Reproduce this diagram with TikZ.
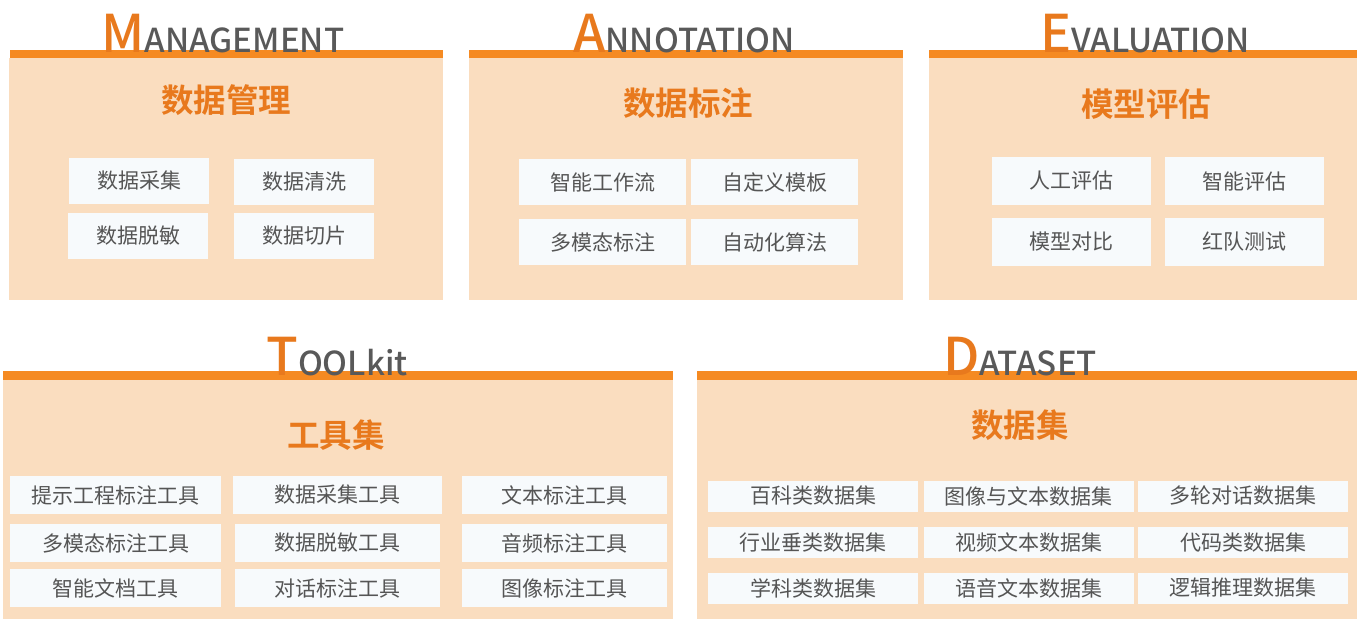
\documentclass[tikz,border=0pt]{standalone}
\usepackage{fontspec}
\setmainfont{Noto Sans CJK SC}[BoldFont={Noto Sans CJK SC Bold}]
\newfontfamily\titlefont{Noto Sans CJK SC Medium}
\definecolor{barorange}{HTML}{F58A22}
\definecolor{panelfill}{HTML}{FADDBF}
\definecolor{headorange}{HTML}{E8791D}
\definecolor{titlegray}{HTML}{595959}
\definecolor{boxfill}{HTML}{F7FAFC}
\definecolor{itemtext}{HTML}{555555}
\tikzset{
  panel/.style={fill=panelfill},
  bar/.style={fill=barorange},
  item/.style={fill=boxfill, text=itemtext, inner sep=0pt, font=\fontsize{21}{24}\selectfont},
  heading/.style={text=headorange, inner sep=0pt, font=\fontsize{32.5}{36}\selectfont\bfseries},
  ttl/.style={text=titlegray, inner sep=0pt, anchor=base, font=\titlefont}
}
\newcommand{\initletter}[1]{{\fontsize{52}{52}\selectfont\color{headorange}#1}}
\newcommand{\resttitle}[1]{{\fontsize{33}{33}\selectfont #1}}
\begin{document}
\begin{tikzpicture}[x=1pt,y=-1pt]
\useasboundingbox (0,0) rectangle (1357,619);
% panels
\fill[panel] (9,58) rectangle (443,300);
\fill[bar] (10,50) rectangle (443,58);
\fill[panel] (469,58) rectangle (903,300);
\fill[bar] (469,50) rectangle (903,58);
\fill[panel] (929,58) rectangle (1357,300);
\fill[bar] (929,50) rectangle (1357,58);
\fill[panel] (3,380) rectangle (673,619);
\fill[bar] (3,371) rectangle (673,380);
\fill[panel] (697,380) rectangle (1357,619);
\fill[bar] (697,371) rectangle (1357,380);
% titles
\node[ttl] (tm) at (223,52) {\initletter{M}\resttitle{ANAGEMENT}};
\node[ttl] (ta) at (684,52) {\initletter{A}\resttitle{NNOTATION}};
\node[ttl] (te) at (1145,52) {\initletter{E}\resttitle{VALUATION}};
\node[ttl] (tt) at (337,375) {\initletter{T}\resttitle{OOLkit}};
\node[ttl] (td) at (1020,375) {\initletter{D}\resttitle{ATASET}};
% headings
\node[heading] (hm) at (226,100) {数据管理};
\node[heading] (ha) at (688,103) {数据标注};
\node[heading] (he) at (1146,104) {模型评估};
\node[heading] (ht) at (336,435) {工具集};
\node[heading] (hd) at (1020,425) {数据集};
% management
\begin{scope}[every node/.append style={item, minimum width=140pt, minimum height=46pt}]
\node (m1) at (139,181) {数据采集};
\node (m2) at (304,182) {数据清洗};
\node (m3) at (138,236) {数据脱敏};
\node (m4) at (304,236) {数据切片};
\end{scope}
% annotation
\begin{scope}[every node/.append style={item, minimum width=167pt, minimum height=46pt}]
\node (a1) at (602.5,182) {智能工作流};
\node (a2) at (774.5,182) {自定义模板};
\node (a3) at (602.5,242) {多模态标注};
\node (a4) at (774.5,242) {自动化算法};
\end{scope}
% evaluation
\begin{scope}[every node/.append style={item, minimum width=159pt, minimum height=48pt}]
\node (e1) at (1071.5,181) {人工评估};
\node (e2) at (1244.5,181) {智能评估};
\node (e3) at (1071.5,242) {模型对比};
\node (e4) at (1244.5,242) {红队测试};
\end{scope}
% toolkit
\begin{scope}[every node/.append style={item, minimum height=38pt}]
\node[minimum width=211pt] (t1) at (115.5,495) {提示工程标注工具};
\node[minimum width=209pt] (t2) at (337.5,495) {数据采集工具};
\node[minimum width=205pt] (t3) at (564.5,495) {文本标注工具};
\node[minimum width=211pt] (t4) at (115.5,543) {多模态标注工具};
\node[minimum width=205pt] (t5) at (337.5,543) {数据脱敏工具};
\node[minimum width=205pt] (t6) at (564.5,543) {音频标注工具};
\node[minimum width=211pt] (t7) at (115.5,588) {智能文档工具};
\node[minimum width=205pt] (t8) at (337.5,588) {对话标注工具};
\node[minimum width=205pt] (t9) at (564.5,588) {图像标注工具};
\end{scope}
% dataset
\begin{scope}[every node/.append style={item, minimum width=210pt, minimum height=31pt}]
\node (d1) at (813,496) {百科类数据集};
\node (d2) at (1028.5,496) {图像与文本数据集};
\node (d3) at (1243,496) {多轮对话数据集};
\node (d4) at (813,542.5) {行业垂类数据集};
\node (d5) at (1028.5,542.5) {视频文本数据集};
\node (d6) at (1243,542.5) {代码类数据集};
\node (d7) at (813,588) {学科类数据集};
\node (d8) at (1028.5,588) {语音文本数据集};
\node (d9) at (1243,588) {逻辑推理数据集};
\end{scope}
\end{tikzpicture}
\end{document}
